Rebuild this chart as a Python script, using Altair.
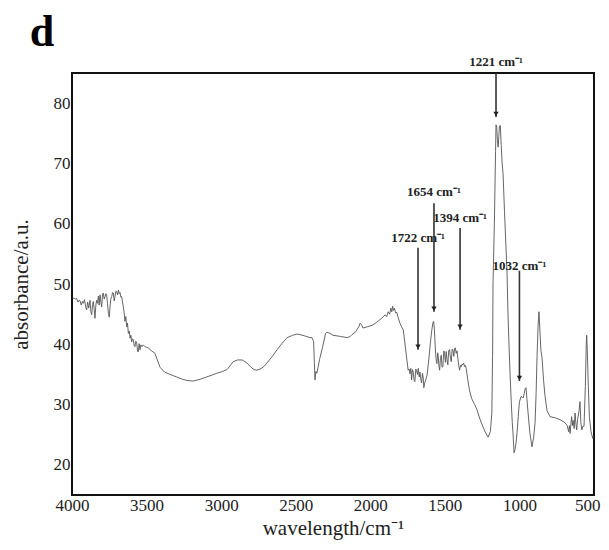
import altair as alt
import pandas as pd

# Spectrum (wavenumber in cm^-1, absorbance in a.u.)
wavenumber = [
    3996, 3985, 3975, 3969, 3960, 3952, 3946, 3938, 3930, 3924, 3916, 3908, 3902, 3895, 3888,
    3879, 3874, 3868, 3862, 3857, 3851, 3846, 3840, 3835, 3829, 3823, 3818, 3812, 3806, 3801,
    3795, 3790, 3784, 3779, 3773, 3768, 3762, 3756, 3750, 3745, 3740, 3734, 3728, 3723, 3717,
    3712, 3706, 3700, 3694, 3689, 3683, 3678, 3672, 3667, 3661, 3656, 3650, 3645, 3639, 3633,
    3628, 3622, 3616, 3611, 3605, 3600, 3594, 3589, 3583, 3578, 3572, 3566, 3560, 3555, 3550,
    3544, 3538, 3530, 3522, 3510, 3500, 3488, 3477, 3466, 3444, 3410, 3380, 3343, 3300, 3260,
    3229, 3189, 3140, 3095, 3060, 3028, 2990, 2961, 2935, 2920, 2890, 2860, 2840, 2827, 2800,
    2780, 2760, 2730, 2710, 2693, 2660, 2625, 2590, 2558, 2520, 2490, 2471, 2440, 2404, 2391,
    2380, 2375, 2371, 2365, 2358, 2350, 2340, 2320, 2300, 2290, 2270, 2250, 2200, 2156, 2135,
    2123, 2100, 2075, 2069, 2060, 2049, 2020, 1982, 1950, 1915, 1900, 1890, 1880, 1870, 1862,
    1856, 1850, 1845, 1838, 1830, 1822, 1814, 1801, 1790, 1779, 1768, 1757, 1746, 1740, 1734,
    1728, 1723, 1717, 1712, 1706, 1701, 1695, 1690, 1684, 1678, 1672, 1667, 1661, 1656, 1650,
    1645, 1641, 1635, 1628, 1619, 1606, 1597, 1589, 1580, 1575, 1570, 1562, 1557, 1553, 1548,
    1544, 1540, 1535, 1530, 1524, 1519, 1513, 1507, 1502, 1496, 1491, 1486, 1480, 1474, 1468,
    1462, 1457, 1451, 1446, 1440, 1435, 1430, 1424, 1418, 1413, 1407, 1401, 1395, 1390, 1385,
    1379, 1374, 1368, 1362, 1357, 1346, 1335, 1320, 1300, 1284, 1265, 1244, 1225, 1210, 1195,
    1185, 1180, 1177, 1168, 1160, 1157, 1152, 1148, 1143, 1138, 1134, 1128, 1122, 1116, 1110,
    1100, 1090, 1083, 1077, 1070, 1063, 1055, 1048, 1043, 1036, 1030, 1023, 1016, 1008, 1000,
    990, 983, 975, 968, 962, 956, 950, 942, 930, 916, 905, 895, 888, 882, 875,
    869, 862, 856, 849, 838, 828, 815, 795, 760, 728, 700, 681, 670, 665, 660,
    655, 650, 645, 640, 633, 627, 622, 616, 610, 600, 594, 588, 582, 575, 567,
    558, 552, 549, 545, 538, 531, 520, 509, 505,
]
absorbance = [
    47.7, 47.6, 47.5, 47.6, 47.0, 47.3, 47.2, 46.5, 47.1, 46.8, 47.4, 46.2, 45.7, 47.0, 46.0,
    47.3, 45.5, 44.9, 46.6, 47.1, 45.8, 44.3, 46.5, 47.3, 46.8, 48.0, 46.5, 48.2, 47.0, 46.2,
    48.3, 48.5, 47.5, 47.9, 48.4, 48.2, 46.8, 45.1, 44.5, 46.2, 47.5, 47.9, 48.6, 48.5, 47.2,
    47.9, 48.8, 48.7, 48.2, 49.0, 48.4, 48.6, 47.8, 47.9, 47.0, 46.2, 45.2, 43.8, 44.6, 42.9,
    43.5, 41.8, 42.2, 41.0, 41.5, 40.4, 40.9, 40.7, 39.8, 39.6, 40.5, 40.2, 38.8, 38.8, 40.1,
    39.1, 39.9, 39.6, 39.9, 39.6, 39.5, 39.4, 39.1, 38.9, 38.5, 36.2, 35.4, 35.0, 34.6, 34.2,
    34.0, 33.9, 34.2, 34.6, 34.9, 35.2, 35.5, 35.8, 36.6, 37.1, 37.4, 37.4, 37.1, 36.9, 36.2,
    35.8, 35.7, 36.0, 36.4, 36.9, 37.9, 39.1, 40.2, 41.1, 41.5, 41.7, 41.6, 41.4, 41.1, 41.1,
    40.5, 37.0, 34.1, 35.5, 35.2, 36.2, 37.5, 39.5, 41.8, 42.0, 41.8, 41.5, 41.3, 41.1, 41.3,
    41.6, 42.0, 43.0, 43.5, 43.3, 42.7, 42.9, 43.2, 43.8, 44.5, 44.9, 44.6, 45.4, 45.0, 46.0,
    45.4, 46.3, 45.6, 46.0, 45.2, 45.3, 44.5, 43.5, 42.9, 42.4, 40.2, 37.9, 35.7, 35.9, 35.1,
    36.0, 34.1, 35.8, 35.4, 34.0, 33.8, 35.9, 35.7, 35.0, 36.0, 34.6, 35.4, 34.2, 33.6, 35.2,
    34.4, 32.8, 33.6, 34.1, 34.9, 37.9, 40.2, 42.1, 43.6, 43.8, 42.4, 38.4, 37.2, 36.8, 38.6,
    37.9, 36.4, 35.7, 37.6, 38.2, 36.2, 36.3, 38.9, 38.5, 37.0, 38.8, 37.5, 36.6, 39.0, 39.1,
    37.6, 37.1, 39.2, 39.1, 38.0, 39.3, 39.4, 38.5, 38.9, 37.7, 36.5, 35.7, 36.5, 36.3, 36.7,
    36.6, 36.9, 36.3, 36.5, 36.0, 34.1, 32.4, 31.0, 30.0, 29.1, 27.6, 26.3, 25.2, 24.6, 25.5,
    28.5, 38.0, 50.2, 60.0, 72.0, 76.4, 76.0, 74.0, 72.7, 74.5, 76.2, 76.3, 73.0, 70.0, 68.4,
    62.0, 56.0, 51.8, 45.2, 40.0, 35.2, 30.5, 27.0, 25.3, 22.0, 22.5, 23.6, 25.3, 28.0, 30.4,
    31.3, 31.3, 31.1, 31.8, 32.6, 32.8, 31.0, 28.6, 25.3, 23.0, 24.5, 27.0, 32.0, 37.9, 43.0,
    45.4, 42.0, 39.0, 37.9, 34.0, 31.3, 29.0, 28.0, 27.8, 27.5, 27.1, 26.6, 25.5, 26.5, 25.2,
    26.8, 28.0, 26.5, 27.4, 26.0, 28.6, 27.0, 25.8, 27.5, 29.0, 30.5, 27.0, 25.8, 26.4, 26.4,
    33.0, 40.0, 41.5, 39.0, 33.0, 28.0, 25.5, 24.4, 24.8,
]

# Peak annotations: label text, arrow position (as drawn), arrow top, arrow tip, label height
ann_labels = ["1221 cm⁻¹", "1654 cm⁻¹", "1394 cm⁻¹", "1722 cm⁻¹", "1032 cm⁻¹"]
ann_x = [1157, 1573, 1398, 1680, 1000]
ann_top = [85.0, 63.4, 59.3, 56.0, 52.2]
ann_tip = [77.7, 45.4, 42.4, 39.1, 33.9]
ann_label_y = [86.9, 65.3, 61.0, 57.6, 53.0]

# Panel letter
panel_label = ["d"]
panel_x = [4201]
panel_y = [89.4]

x_ticks = [4000, 3500, 3000, 2500, 2000, 1500, 1000, 500]
y_ticks = [20, 30, 40, 50, 60, 70, 80]

spec = pd.DataFrame({"wn": wavenumber, "a": absorbance})
ann = pd.DataFrame({"label": ann_labels, "x": ann_x, "top": ann_top,
                    "tip": ann_tip, "ly": ann_label_y})
panel = pd.DataFrame({"label": panel_label, "x": panel_x, "y": panel_y})

FONT = "Liberation Serif"

xscale = alt.Scale(domain=[500, 4000], reverse=True, nice=False, zero=False)
yscale = alt.Scale(domain=[15, 85], nice=False, zero=False)

xaxis = alt.Axis(values=x_ticks, format="d", title="wavelength/cm⁻¹", grid=False,
                 domain=False, ticks=False, labelPadding=2, labelFontSize=17,
                 labelFont=FONT, labelColor="#222", labelOverlap=False, labelFlush=False,
                 labelBound=False,
                 labelAlign={"condition": {"test": "datum.value == 500", "value": "right"},
                             "value": "center"},
                 labelOffset={"condition": {"test": "datum.value == 500", "value": 6},
                              "value": 0},
                 titleFont=FONT, titleFontSize=21,
                 titleFontWeight="normal", titleColor="#222", titlePadding=4)
yaxis = alt.Axis(values=y_ticks, format="d", title="absorbance/a.u.", grid=False,
                 domain=False, ticks=False, labelPadding=2, labelFontSize=17,
                 labelFont=FONT, labelColor="#222", titleFont=FONT, titleFontSize=21,
                 titleFontWeight="normal", titleColor="#222", titlePadding=22)

line = alt.Chart(spec).mark_line(color="#555", strokeWidth=0.9).encode(
    x=alt.X("wn:Q", scale=xscale, axis=xaxis),
    y=alt.Y("a:Q", scale=yscale, axis=yaxis),
    order="wn:O",
)

arrows = alt.Chart(ann).mark_rule(color="#333", strokeWidth=1.6).encode(
    x=alt.X("x:Q", scale=xscale),
    y=alt.Y("top:Q", scale=yscale),
    y2="tip:Q",
)

heads = alt.Chart(ann).mark_point(shape="triangle-down", filled=True, color="#222",
                                  size=28, opacity=1, yOffset=-3).encode(
    x=alt.X("x:Q", scale=xscale),
    y=alt.Y("tip:Q", scale=yscale),
)

labels = alt.Chart(ann).mark_text(font=FONT, fontSize=13, fontWeight="bold",
                                  color="#222", align="center", baseline="middle").encode(
    x=alt.X("x:Q", scale=xscale),
    y=alt.Y("ly:Q", scale=yscale),
    text="label:N",
)

letter = alt.Chart(panel).mark_text(font=FONT, fontSize=44, fontWeight="bold",
                                    color="#000", align="center",
                                    baseline="alphabetic").encode(
    x=alt.X("x:Q", scale=xscale),
    y=alt.Y("y:Q", scale=yscale),
    text="label:N",
)

chart = alt.layer(line, arrows, heads, labels, letter).properties(
    width=522, height=422,
    autosize=alt.AutoSizeParams(type="none"),
    padding={"left": 64, "top": 65, "right": 7, "bottom": 47},
).configure_view(stroke="#111", strokeWidth=2)

chart.save("out.html", embed_options={"renderer": "svg", "actions": False})
